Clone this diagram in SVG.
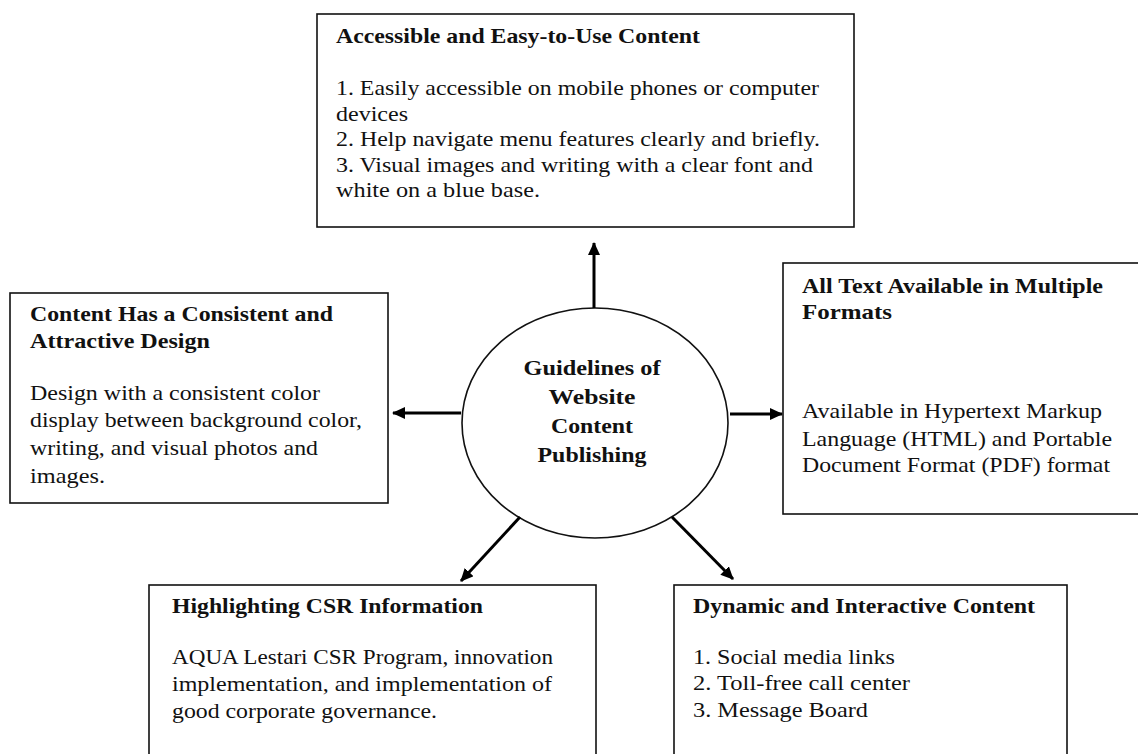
<svg xmlns="http://www.w3.org/2000/svg" width="1138" height="754" viewBox="0 0 1138 754">
<style>
.box{fill:#fff;stroke:#111;stroke-width:1.6}
.t{font-family:"Liberation Serif","Times New Roman",serif;font-size:21px;fill:#111}
.b{font-weight:bold}
.c{text-anchor:middle}
.conn{stroke:#000;stroke-width:3;fill:none;marker-end:url(#ah)}
</style>
<defs>
<marker id="ah" markerUnits="userSpaceOnUse" markerWidth="13" markerHeight="12" refX="12" refY="6" orient="auto">
<path d="M0,0 L13,6 L0,12 z" fill="#000"/>
</marker>
</defs>
<rect width="1138" height="754" fill="#fff"/>

<g id="top">
<rect class="box" x="317" y="14" width="537" height="213"/>
<text class="t b" x="336" y="43" textLength="364" lengthAdjust="spacingAndGlyphs">Accessible and Easy-to-Use Content</text>
<text class="t" x="336" y="95" textLength="483" lengthAdjust="spacingAndGlyphs">1. Easily accessible on mobile phones or computer</text>
<text class="t" x="336" y="120.5" textLength="72" lengthAdjust="spacingAndGlyphs">devices</text>
<text class="t" x="336" y="146" textLength="484" lengthAdjust="spacingAndGlyphs">2. Help navigate menu features clearly and briefly.</text>
<text class="t" x="336" y="171.5" textLength="477" lengthAdjust="spacingAndGlyphs">3. Visual images and writing with a clear font and</text>
<text class="t" x="336" y="197" textLength="204" lengthAdjust="spacingAndGlyphs">white on a blue base.</text>
</g>

<g id="left">
<rect class="box" x="10" y="293" width="378" height="210"/>
<text class="t b" x="30" y="321" textLength="303" lengthAdjust="spacingAndGlyphs">Content Has a Consistent and</text>
<text class="t b" x="30" y="348" textLength="180" lengthAdjust="spacingAndGlyphs">Attractive Design</text>
<text class="t" x="30" y="400" textLength="290" lengthAdjust="spacingAndGlyphs">Design with a consistent color</text>
<text class="t" x="30" y="427" textLength="332" lengthAdjust="spacingAndGlyphs">display between background color,</text>
<text class="t" x="30" y="455" textLength="288" lengthAdjust="spacingAndGlyphs">writing, and visual photos and</text>
<text class="t" x="30" y="483" textLength="75" lengthAdjust="spacingAndGlyphs">images.</text>
</g>

<g id="right">
<rect class="box" x="783" y="263" width="370" height="251"/>
<text class="t b" x="802" y="293" textLength="301" lengthAdjust="spacingAndGlyphs">All Text Available in Multiple</text>
<text class="t b" x="802" y="319" textLength="90" lengthAdjust="spacingAndGlyphs">Formats</text>
<text class="t" x="802" y="418" textLength="300" lengthAdjust="spacingAndGlyphs">Available in Hypertext Markup</text>
<text class="t" x="802" y="446" textLength="310" lengthAdjust="spacingAndGlyphs">Language (HTML) and Portable</text>
<text class="t" x="802" y="472" textLength="308" lengthAdjust="spacingAndGlyphs">Document Format (PDF) format</text>
</g>

<g id="center">
<ellipse cx="595" cy="423" rx="133" ry="115" fill="#fff" stroke="#111" stroke-width="1.6"/>
<text class="t b c" x="592" y="375" textLength="137" lengthAdjust="spacingAndGlyphs">Guidelines of</text>
<text class="t b c" x="592" y="404" textLength="87" lengthAdjust="spacingAndGlyphs">Website</text>
<text class="t b c" x="592" y="433" textLength="82" lengthAdjust="spacingAndGlyphs">Content</text>
<text class="t b c" x="592" y="462" textLength="109" lengthAdjust="spacingAndGlyphs">Publishing</text>
</g>

<g id="csr">
<rect class="box" x="149" y="585" width="447" height="180"/>
<text class="t b" x="172" y="613" textLength="311" lengthAdjust="spacingAndGlyphs">Highlighting CSR Information</text>
<text class="t" x="172" y="664" textLength="381" lengthAdjust="spacingAndGlyphs">AQUA Lestari CSR Program, innovation</text>
<text class="t" x="172" y="691" textLength="380" lengthAdjust="spacingAndGlyphs">implementation, and implementation of</text>
<text class="t" x="172" y="718" textLength="265" lengthAdjust="spacingAndGlyphs">good corporate governance.</text>
</g>

<g id="dynamic">
<rect class="box" x="674" y="585" width="393" height="180"/>
<text class="t b" x="693" y="613" textLength="342" lengthAdjust="spacingAndGlyphs">Dynamic and Interactive Content</text>
<text class="t" x="693" y="664" textLength="202" lengthAdjust="spacingAndGlyphs">1. Social media links</text>
<text class="t" x="693" y="690" textLength="217" lengthAdjust="spacingAndGlyphs">2. Toll-free call center</text>
<text class="t" x="693" y="717" textLength="175" lengthAdjust="spacingAndGlyphs">3. Message Board</text>
</g>

<g id="connectors">
<line class="conn" x1="594" y1="308" x2="594" y2="243"/>
<line class="conn" x1="461" y1="413" x2="393" y2="413"/>
<line class="conn" x1="730" y1="414" x2="782" y2="414"/>
<line class="conn" x1="520" y1="517" x2="461" y2="581"/>
<line class="conn" x1="672" y1="517" x2="733" y2="579"/>
</g>
</svg>
